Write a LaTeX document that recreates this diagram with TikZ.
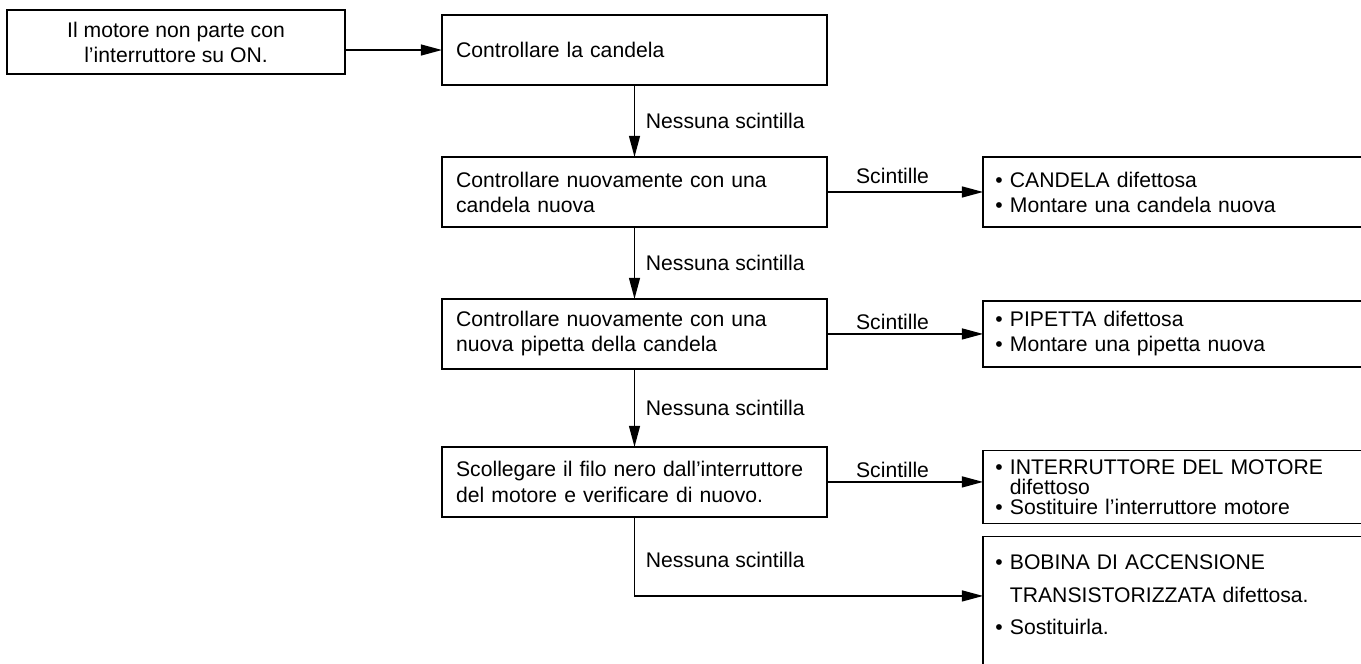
\documentclass[tikz,border=0pt]{standalone}
\usepackage{fontspec}
\setmainfont{Liberation Sans}
\usetikzlibrary{arrows.meta, positioning}

\begin{document}
\begin{tikzpicture}[
    x=0.567pt, y=-0.567pt,
    startbox/.style={draw, line width=0.85pt, outer sep=0pt, minimum width=191.6pt, minimum height=36.3pt, align=center, font=\fontsize{12}{14.2}\selectfont},
    check/.style={draw, line width=0.85pt, outer sep=0pt, inner xsep=8pt, minimum width=218.3pt, minimum height=39.7pt, text width=202.3pt, align=left, font=\fontsize{12}{14.2}\selectfont},
    fault/.style={draw, line width=0.85pt, outer sep=0pt, inner xsep=7pt, minimum width=226.8pt, text width=212.8pt, align=left, font=\fontsize{12}{14.2}\selectfont},
    lbl/.style={font=\fontsize{12}{14.2}\selectfont, inner sep=2pt},
    arr/.style={-{Triangle[length=12pt, width=6.2pt]}, line width=0.9pt},
    node distance=40.8pt and 88.5pt,
]
\useasboundingbox (0,0) rectangle (1361,664);
\clip (0,0) rectangle (1361,664);

\node[check, anchor=north west] (b1) at (442,15) {Controllare la candela};
\node[startbox, left=55pt of b1, yshift=4.5pt] (start) {Il motore non parte con\\l'interruttore su ON.};
\node[check, below=of b1] (b2) {Controllare nuovamente con una\\candela nuova};
\node[check, below=of b2] (b3) {Controllare nuovamente con una\\nuova pipetta della candela};
\node[check, below=44.2pt of b3] (b4) {Scollegare il filo nero dall'interruttore\\del motore e verificare di nuovo.};

\node[fault, right=of b2, minimum height=39.7pt] (ra) {• CANDELA difettosa\\• Montare una candela nuova};
\node[fault, right=of b3, minimum height=37.4pt] (rb) {• PIPETTA difettosa\\• Montare una pipetta nuova};
\node[fault, right=of b4, yshift=-2.8pt, minimum height=41.4pt, font=\fontsize{12}{11.4}\selectfont] (rc) {• INTERRUTTORE DEL MOTORE\\\phantom{• }difettoso\\• Sostituire l'interruttore motore};
\node[fault, below=7.4pt of rc, inner ysep=4pt, text height=15pt, text depth=120pt] (rd) {• BOBINA DI ACCENSIONE\\[4.5pt]\phantom{• }TRANSISTORIZZATA difettosa.\\[3.5pt]• Sostituirla.};
\coordinate[below=44.8pt of b4] (turn);

\draw[arr] (start.east |- b1.west) -- (b1.west);
\draw[arr] (b1) -- node[lbl, right, xshift=4pt] {Nessuna scintilla} (b2);
\draw[arr] (b2) -- node[lbl, right, xshift=4pt] {Nessuna scintilla} (b3);
\draw[arr] (b3) -- node[lbl, right, xshift=4pt] {Nessuna scintilla} (b4);
\draw[arr] (b2) -- node[lbl, above, pos=0.42, yshift=2pt] {Scintille} (ra.west |- b2);
\draw[arr] (b3) -- node[lbl, above, pos=0.42] {Scintille} (rb.west |- b3);
\draw[arr] (b4) -- node[lbl, above, pos=0.42] {Scintille} (rc.west |- b4);
\draw[arr] (b4) -- node[lbl, right, xshift=4pt, pos=0.55] {Nessuna scintilla} (turn) -- (turn -| rd.west);
\end{tikzpicture}
\end{document}
